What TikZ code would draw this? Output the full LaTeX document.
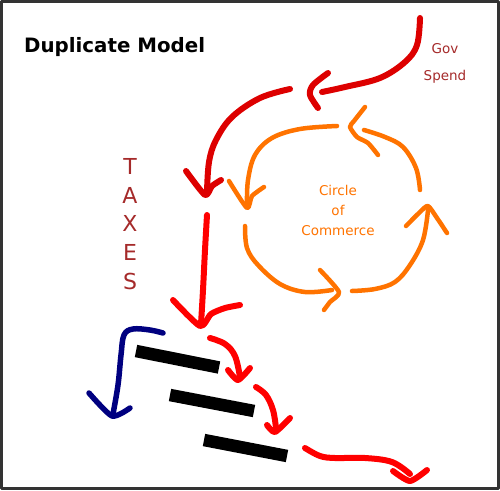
\documentclass[tikz,border=0pt]{standalone}
\usepackage{fontspec}
\setmainfont{DejaVu Sans}
\definecolor{framegray}{HTML}{333333}
\definecolor{darkred}{HTML}{DD0000}
\definecolor{brightred}{HTML}{FF0000}
\definecolor{commorange}{HTML}{FF7300}
\definecolor{navyblue}{HTML}{000080}
\definecolor{labelbrown}{HTML}{A52A2A}
\begin{document}
\begin{tikzpicture}[x=1pt,y=-1pt,line cap=round,line join=round,
  redtop/.style={draw=darkred,line width=6pt},
  redlow/.style={draw=brightred,line width=6pt},
  orangestroke/.style={draw=commorange,line width=4.5pt},
  bluestroke/.style={draw=navyblue,line width=5.5pt},
  barstroke/.style={draw=black,line width=12.5pt,line cap=butt},
  brownlabel/.style={text=labelbrown,inner sep=0pt},
  orangelabel/.style={text=commorange,inner sep=0pt,align=center}]
\useasboundingbox (0,0) rectangle (500,490);
\draw[line width=3pt,draw=framegray] (1.5,1.5) rectangle (498.5,488.5);

% texts
\node[anchor=west,inner sep=0pt,font=\bfseries\fontsize{19.8}{23}\selectfont] (title) at (24,47.5) {Duplicate Model};
\node[brownlabel,font=\fontsize{13.5}{16}\selectfont] (gov) at (445,49) {Gov};
\node[brownlabel,font=\fontsize{13.5}{16}\selectfont] (spend) at (445,77) {Spend};
\node[brownlabel,font=\fontsize{22}{26}\selectfont] (t1) at (130,166) {T};
\node[brownlabel,font=\fontsize{22}{26}\selectfont] (t2) at (130,195) {A};
\node[brownlabel,font=\fontsize{22}{26}\selectfont] (t3) at (130,223) {X};
\node[brownlabel,font=\fontsize{22}{26}\selectfont] (t4) at (130,252) {E};
\node[brownlabel,font=\fontsize{22}{26}\selectfont] (t5) at (130,281) {S};
\node[orangelabel,font=\fontsize{13.5}{20}\selectfont] (circle) at (338,210) {Circle\\of\\Commerce};

% gov spend arrow
\draw[redtop] plot[smooth,tension=0.6] coordinates {(420,18) (417,45) (405,62) (380,78) (345,87) (322,92)};
\draw[redtop] plot[smooth,tension=0.5] coordinates {(328,73) (313,85) (310,95) (318,108)};

% big red arrow from spend
\draw[redtop] plot[smooth,tension=0.6] coordinates {(290,89) (260,98) (232,117) (216,140) (209,162) (207,192)};
\draw[redtop] plot[smooth,tension=0.4] coordinates {(186,171) (205,195) (212,186) (221,180)};

% taxes arrow
\draw[redlow] plot[smooth,tension=0.6] coordinates {(207,215) (205,250) (203,290) (201,324)};
\draw[redlow] plot[smooth,tension=0.4] coordinates {(173,300) (200,326) (211,314) (225,308) (240,305)};

% blue arrow
\draw[bluestroke] plot[smooth,tension=0.6] coordinates {(163,333) (150,330) (133,329) (124,335) (121,355) (118,385) (113,414)};
\draw[bluestroke] plot[smooth,tension=0.4] coordinates {(89,393) (112,416) (130,408)};

% bars
\draw[barstroke] (136,351) -- (219,367.5);
\draw[barstroke] (170,395) -- (254,411);
\draw[barstroke] (204,440) -- (287,456);

% small red arrows
\draw[redlow] plot[smooth,tension=0.6] coordinates {(210,338) (225,344) (235,356) (240,377)};
\draw[redlow] plot[smooth,tension=0.4] coordinates {(228,370) (238,380) (250,368)};
\draw[redlow] plot[smooth,tension=0.6] coordinates {(256,387) (266,395) (273,410) (276,428)};
\draw[redlow] plot[smooth,tension=0.4] coordinates {(267,425) (275,432) (290,418)};
\draw[redlow] plot[smooth,tension=0.6] coordinates {(305,448) (320,456) (335,458) (365,458) (392,462) (410,474)};
\draw[redlow] plot[smooth,tension=0.4] coordinates {(393,471) (410,481) (427,470)};

% circle of commerce
\draw[orangestroke] plot[smooth,tension=0.6] coordinates {(337,126) (300,129) (272,138) (255,155) (248,180) (247,205)};
\draw[orangestroke] plot[smooth,tension=0.4] coordinates {(229,181) (247,208) (252,196) (264,187)};
\draw[orangestroke] plot[smooth,tension=0.6] coordinates {(245,226) (247,248) (258,265) (280,284) (305,292) (332,290)};
\draw[orangestroke] plot[smooth,tension=0.4] coordinates {(320,270) (339,292) (330,302) (324,310)};
\draw[orangestroke] plot[smooth,tension=0.6] coordinates {(352,291) (375,289) (395,282) (410,265) (423,240) (428,210)};
\draw[orangestroke] plot[smooth,tension=0.4] coordinates {(406,226) (420,212) (428,206) (437,218) (447,233)};
\draw[orangestroke] plot[smooth,tension=0.6] coordinates {(420,190) (416,168) (403,147) (385,137) (364,130)};
\draw[orangestroke] plot[smooth,tension=0.4] coordinates {(365,107) (354,121) (350,127) (357,137) (368,143) (378,155)};
\end{tikzpicture}
\end{document}
